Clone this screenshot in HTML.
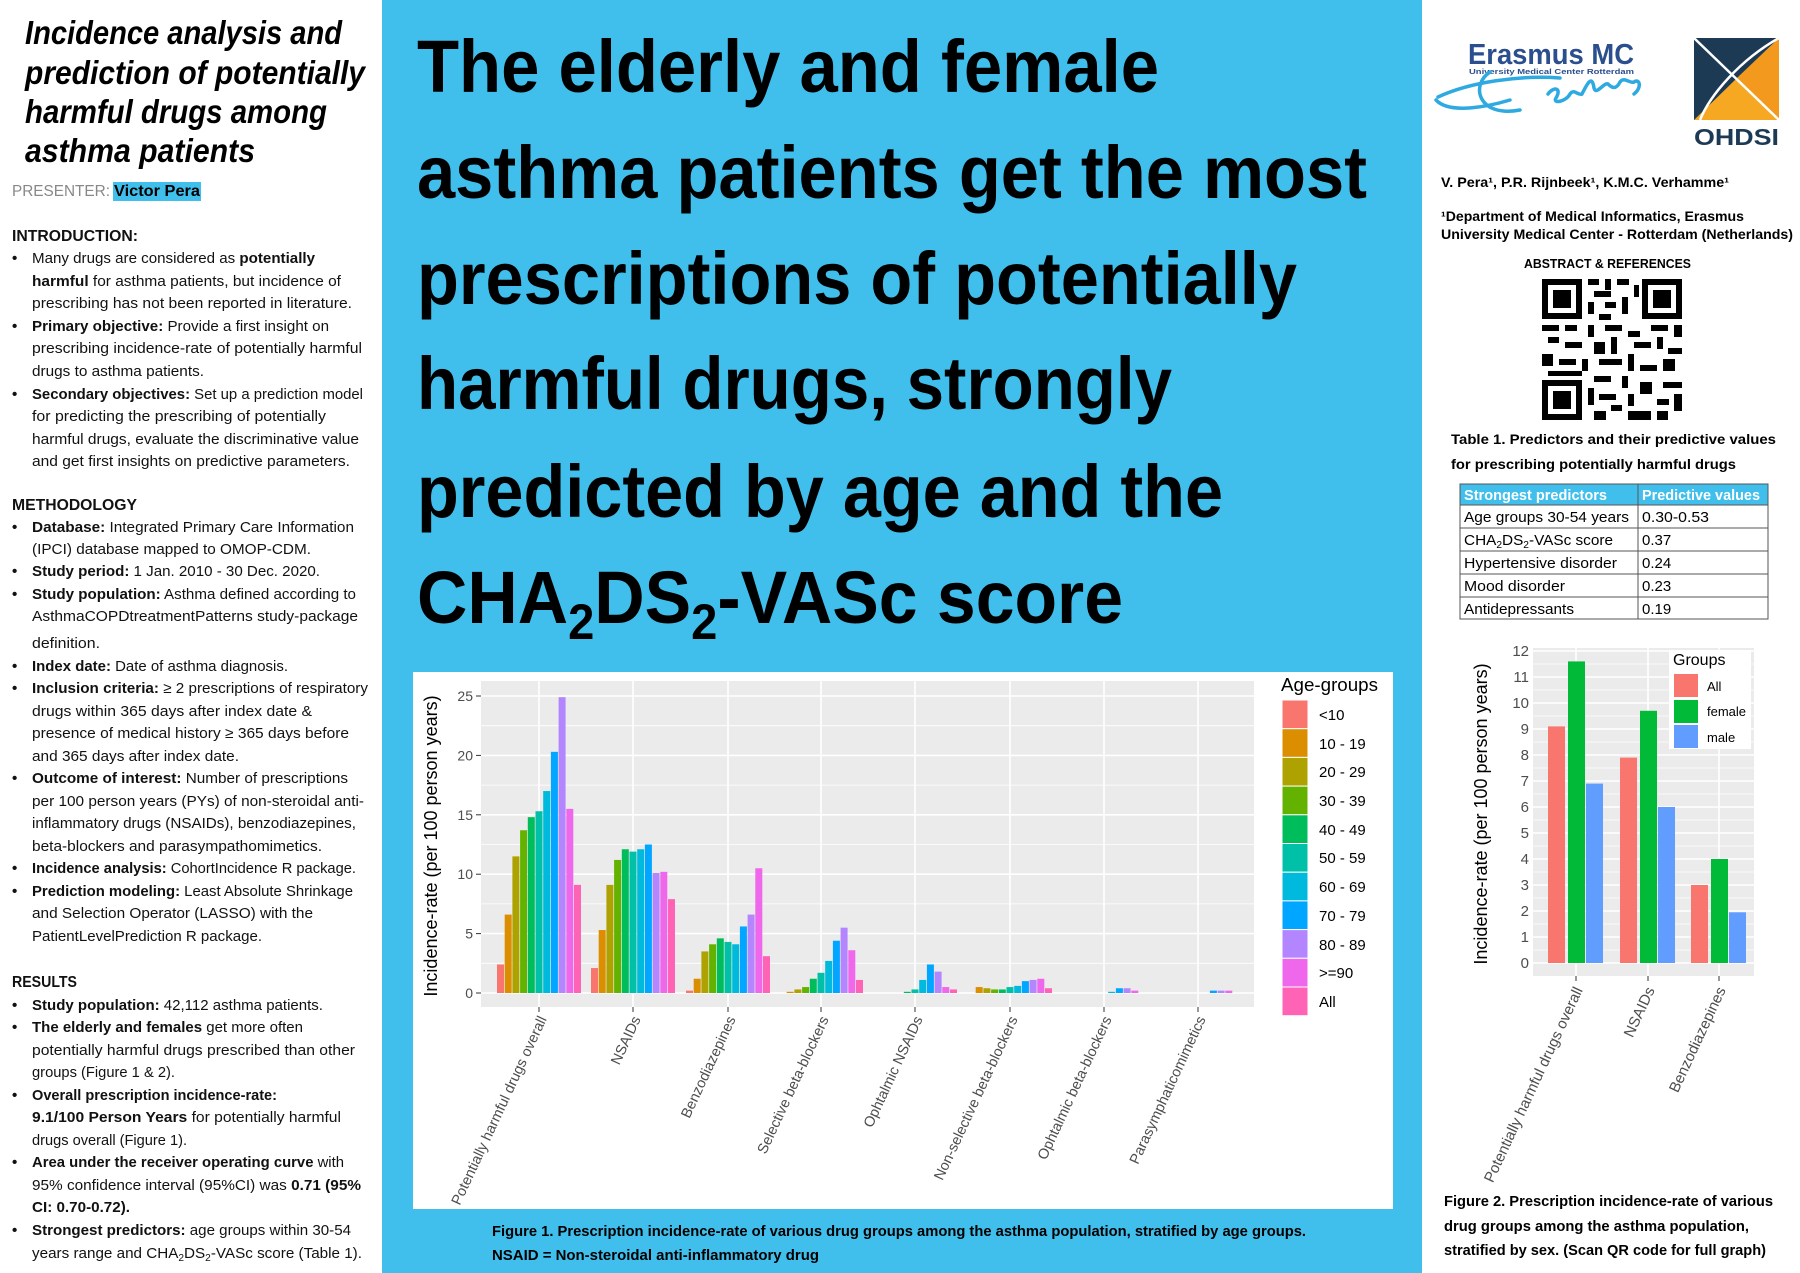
<!DOCTYPE html>
<html><head><meta charset="utf-8"><style>
html,body{margin:0;padding:0;background:#fff;}
svg{display:block;}
text{font-family:"Liberation Sans",sans-serif;}
</style></head><body>
<svg width="1800" height="1273" viewBox="0 0 1800 1273" xmlns="http://www.w3.org/2000/svg">
<rect x="0" y="0" width="1800" height="1273" fill="#fff"/>
<rect x="382" y="0" width="1040" height="1273" fill="#41BFEC"/>

<!-- LEFT COLUMN -->
<g font-weight="bold" font-style="italic" font-size="33" fill="#000">
<text x="25" y="44" textLength="317" lengthAdjust="spacingAndGlyphs">Incidence analysis and</text>
<text x="25" y="84" textLength="340" lengthAdjust="spacingAndGlyphs">prediction of potentially</text>
<text x="25" y="123" textLength="302" lengthAdjust="spacingAndGlyphs">harmful drugs among</text>
<text x="25" y="162" textLength="230" lengthAdjust="spacingAndGlyphs">asthma patients</text>
</g>
<text x="12" y="196" font-size="16" fill="#888" textLength="98" lengthAdjust="spacingAndGlyphs">PRESENTER:</text>
<rect x="113" y="182" width="88" height="19" fill="#41BFEC"/>
<text x="114" y="196" font-size="16" font-weight="bold" fill="#000" textLength="86" lengthAdjust="spacingAndGlyphs">Victor Pera</text>

<g font-size="15" fill="#111">
<text x="12" y="241" font-weight="bold" font-size="16" textLength="126" lengthAdjust="spacingAndGlyphs">INTRODUCTION:</text>
<g font-weight="bold"><text x="12" y="263">•</text><text x="12" y="331">•</text><text x="12" y="399">•</text></g>
<text x="32" y="263" textLength="283" lengthAdjust="spacingAndGlyphs">Many drugs are considered as <tspan font-weight="bold">potentially</tspan></text>
<text x="32" y="286" textLength="309" lengthAdjust="spacingAndGlyphs"><tspan font-weight="bold">harmful</tspan> for asthma patients, but incidence of</text>
<text x="32" y="308" textLength="320" lengthAdjust="spacingAndGlyphs">prescribing has not been reported in literature.</text>
<text x="32" y="331" textLength="297" lengthAdjust="spacingAndGlyphs"><tspan font-weight="bold">Primary objective:</tspan> Provide a first insight on</text>
<text x="32" y="353" textLength="330" lengthAdjust="spacingAndGlyphs">prescribing incidence-rate of potentially harmful</text>
<text x="32" y="376" textLength="172" lengthAdjust="spacingAndGlyphs">drugs to asthma patients.</text>
<text x="32" y="399" textLength="331" lengthAdjust="spacingAndGlyphs"><tspan font-weight="bold">Secondary objectives:</tspan> Set up a prediction model</text>
<text x="32" y="421" textLength="294" lengthAdjust="spacingAndGlyphs">for predicting the prescribing of potentially</text>
<text x="32" y="444" textLength="327" lengthAdjust="spacingAndGlyphs">harmful drugs, evaluate the discriminative value</text>
<text x="32" y="466" textLength="318" lengthAdjust="spacingAndGlyphs">and get first insights on predictive parameters.</text>

<text x="12" y="510" font-weight="bold" font-size="16" textLength="125" lengthAdjust="spacingAndGlyphs">METHODOLOGY</text>
<g font-weight="bold"><text x="12" y="532">•</text><text x="12" y="576">•</text><text x="12" y="599">•</text><text x="12" y="671">•</text><text x="12" y="693">•</text><text x="12" y="783">•</text><text x="12" y="873">•</text><text x="12" y="896">•</text></g>
<text x="32" y="532" textLength="322" lengthAdjust="spacingAndGlyphs"><tspan font-weight="bold">Database:</tspan> Integrated Primary Care Information</text>
<text x="32" y="554" textLength="279" lengthAdjust="spacingAndGlyphs">(IPCI) database mapped to OMOP-CDM.</text>
<text x="32" y="576" textLength="288" lengthAdjust="spacingAndGlyphs"><tspan font-weight="bold">Study period:</tspan> 1 Jan. 2010 - 30 Dec. 2020.</text>
<text x="32" y="599" textLength="324" lengthAdjust="spacingAndGlyphs"><tspan font-weight="bold">Study population:</tspan> Asthma defined according to</text>
<text x="32" y="621" textLength="326" lengthAdjust="spacingAndGlyphs">AsthmaCOPDtreatmentPatterns study-package</text>
<text x="32" y="648" textLength="68" lengthAdjust="spacingAndGlyphs">definition.</text>
<text x="32" y="671" textLength="256" lengthAdjust="spacingAndGlyphs"><tspan font-weight="bold">Index date:</tspan> Date of asthma diagnosis.</text>
<text x="32" y="693" textLength="336" lengthAdjust="spacingAndGlyphs"><tspan font-weight="bold">Inclusion criteria:</tspan> ≥ 2 prescriptions of respiratory</text>
<text x="32" y="716" textLength="280" lengthAdjust="spacingAndGlyphs">drugs within 365 days after index date &amp;</text>
<text x="32" y="738" textLength="317" lengthAdjust="spacingAndGlyphs">presence of medical history ≥ 365 days before</text>
<text x="32" y="761" textLength="207" lengthAdjust="spacingAndGlyphs">and 365 days after index date.</text>
<text x="32" y="783" textLength="316" lengthAdjust="spacingAndGlyphs"><tspan font-weight="bold">Outcome of interest:</tspan> Number of prescriptions</text>
<text x="32" y="806" textLength="332" lengthAdjust="spacingAndGlyphs">per 100 person years (PYs) of non-steroidal anti-</text>
<text x="32" y="828" textLength="324" lengthAdjust="spacingAndGlyphs">inflammatory drugs (NSAIDs), benzodiazepines,</text>
<text x="32" y="851" textLength="290" lengthAdjust="spacingAndGlyphs">beta-blockers and parasympathomimetics.</text>
<text x="32" y="873" textLength="324" lengthAdjust="spacingAndGlyphs"><tspan font-weight="bold">Incidence analysis:</tspan> CohortIncidence R package.</text>
<text x="32" y="896" textLength="321" lengthAdjust="spacingAndGlyphs"><tspan font-weight="bold">Prediction modeling:</tspan> Least Absolute Shrinkage</text>
<text x="32" y="918" textLength="281" lengthAdjust="spacingAndGlyphs">and Selection Operator (LASSO) with the</text>
<text x="32" y="941" textLength="230" lengthAdjust="spacingAndGlyphs">PatientLevelPrediction R package.</text>

<text x="12" y="987" font-weight="bold" font-size="16" textLength="65" lengthAdjust="spacingAndGlyphs">RESULTS</text>
<g font-weight="bold"><text x="12" y="1010">•</text><text x="12" y="1032">•</text><text x="12" y="1100">•</text><text x="12" y="1167">•</text><text x="12" y="1235">•</text></g>
<text x="32" y="1010" textLength="291" lengthAdjust="spacingAndGlyphs"><tspan font-weight="bold">Study population:</tspan> 42,112 asthma patients.</text>
<text x="32" y="1032" textLength="271" lengthAdjust="spacingAndGlyphs"><tspan font-weight="bold">The elderly and females</tspan> get more often</text>
<text x="32" y="1055" textLength="323" lengthAdjust="spacingAndGlyphs">potentially harmful drugs prescribed than other</text>
<text x="32" y="1077" textLength="143" lengthAdjust="spacingAndGlyphs">groups (Figure 1 &amp; 2).</text>
<text x="32" y="1100" textLength="245" lengthAdjust="spacingAndGlyphs" font-weight="bold">Overall prescription incidence-rate:</text>
<text x="32" y="1122" textLength="309" lengthAdjust="spacingAndGlyphs"><tspan font-weight="bold">9.1/100 Person Years</tspan> for potentially harmful</text>
<text x="32" y="1145" textLength="155" lengthAdjust="spacingAndGlyphs">drugs overall (Figure 1).</text>
<text x="32" y="1167" textLength="312" lengthAdjust="spacingAndGlyphs"><tspan font-weight="bold">Area under the receiver operating curve</tspan> with</text>
<text x="32" y="1190" textLength="329" lengthAdjust="spacingAndGlyphs">95% confidence interval (95%CI) was <tspan font-weight="bold">0.71 (95%</tspan></text>
<text x="32" y="1212" textLength="98" lengthAdjust="spacingAndGlyphs" font-weight="bold">CI: 0.70-0.72).</text>
<text x="32" y="1235" textLength="319" lengthAdjust="spacingAndGlyphs"><tspan font-weight="bold">Strongest predictors:</tspan> age groups within 30-54</text>
<text x="32" y="1258" textLength="330" lengthAdjust="spacingAndGlyphs">years range and CHA<tspan font-size="10" dy="3">2</tspan><tspan dy="-3">DS</tspan><tspan font-size="10" dy="3">2</tspan><tspan dy="-3">-VASc score (Table 1).</tspan></text>
</g>

<!-- MAIN TITLE -->
<g font-weight="bold" font-size="74" fill="#000">
<text x="417" y="92" textLength="742" lengthAdjust="spacingAndGlyphs">The elderly and female</text>
<text x="417" y="198" textLength="950" lengthAdjust="spacingAndGlyphs">asthma patients get the most</text>
<text x="417" y="304" textLength="880" lengthAdjust="spacingAndGlyphs">prescriptions of potentially</text>
<text x="417" y="409" textLength="755" lengthAdjust="spacingAndGlyphs">harmful drugs, strongly</text>
<text x="417" y="517" textLength="806" lengthAdjust="spacingAndGlyphs">predicted by age and the</text>
<text x="417" y="623" textLength="706" lengthAdjust="spacingAndGlyphs">CHA<tspan font-size="50" dy="16">2</tspan><tspan dy="-16">DS</tspan><tspan font-size="50" dy="16">2</tspan><tspan dy="-16">-VASc score</tspan></text>
</g>

<!-- FIGURE 1 -->
<rect x="413" y="672" width="980" height="537" fill="#fff"/>
<rect x="481" y="681" width="773" height="326" fill="#EBEBEB"/>
<g stroke="#fff" stroke-width="0.8">
<line x1="481" x2="1254" y1="963.3" y2="963.3"/><line x1="481" x2="1254" y1="903.9" y2="903.9"/><line x1="481" x2="1254" y1="844.5" y2="844.5"/><line x1="481" x2="1254" y1="785.1" y2="785.1"/><line x1="481" x2="1254" y1="725.7" y2="725.7"/>
</g>
<g stroke="#fff" stroke-width="1.6">
<line x1="481" x2="1254" y1="993" y2="993"/><line x1="481" x2="1254" y1="933.6" y2="933.6"/><line x1="481" x2="1254" y1="874.2" y2="874.2"/><line x1="481" x2="1254" y1="814.8" y2="814.8"/><line x1="481" x2="1254" y1="755.4" y2="755.4"/><line x1="481" x2="1254" y1="696" y2="696"/>
<line y1="681" y2="1007" x1="539" x2="539"/><line y1="681" y2="1007" x1="633" x2="633"/><line y1="681" y2="1007" x1="728" x2="728"/><line y1="681" y2="1007" x1="821" x2="821"/><line y1="681" y2="1007" x1="915" x2="915"/><line y1="681" y2="1007" x1="1010" x2="1010"/><line y1="681" y2="1007" x1="1104" x2="1104"/><line y1="681" y2="1007" x1="1198" x2="1198"/>
</g>
<g stroke="#333" stroke-width="1">
<line x1="476" x2="481" y1="993" y2="993"/><line x1="476" x2="481" y1="933.6" y2="933.6"/><line x1="476" x2="481" y1="874.2" y2="874.2"/><line x1="476" x2="481" y1="814.8" y2="814.8"/><line x1="476" x2="481" y1="755.4" y2="755.4"/><line x1="476" x2="481" y1="696" y2="696"/>
<line y1="1007" y2="1012" x1="539" x2="539"/><line y1="1007" y2="1012" x1="633" x2="633"/><line y1="1007" y2="1012" x1="728" x2="728"/><line y1="1007" y2="1012" x1="821" x2="821"/><line y1="1007" y2="1012" x1="915" x2="915"/><line y1="1007" y2="1012" x1="1010" x2="1010"/><line y1="1007" y2="1012" x1="1104" x2="1104"/><line y1="1007" y2="1012" x1="1198" x2="1198"/>
</g>
<g font-size="14" fill="#4D4D4D" text-anchor="end">
<text x="473" y="998">0</text><text x="473" y="938.6">5</text><text x="473" y="879.2">10</text><text x="473" y="819.8">15</text><text x="473" y="760.4">20</text><text x="473" y="701">25</text>
</g>
<text transform="translate(437,846) rotate(-90)" text-anchor="middle" font-size="18" fill="#000">Incidence-rate (per 100 person years)</text>
<g font-size="14.5" fill="#4D4D4D" text-anchor="end">
<text transform="translate(547,1019) rotate(-65)">Potentially harmful drugs overall</text>
<text transform="translate(641,1019) rotate(-65)">NSAIDs</text>
<text transform="translate(736,1019) rotate(-65)">Benzodiazepines</text>
<text transform="translate(829,1019) rotate(-65)">Selective beta-blockers</text>
<text transform="translate(923,1019) rotate(-65)">Ophtalmic NSAIDs</text>
<text transform="translate(1018,1019) rotate(-65)">Non-selective beta-blockers</text>
<text transform="translate(1112,1019) rotate(-65)">Ophtalmic beta-blockers</text>
<text transform="translate(1206,1019) rotate(-65)">Parasymphaticomimetics</text>
</g>
<!-- bars: each group translate(c-42.35, 993) scale(1,-11.88) -->
<g>
<g transform="translate(496.65,993) scale(1,-11.88)">
<rect x="0.35" y="0" width="7" height="2.4" fill="#F8766D"/><rect x="8.05" y="0" width="7" height="6.6" fill="#DB8E00"/><rect x="15.75" y="0" width="7" height="11.5" fill="#AEA200"/><rect x="23.45" y="0" width="7" height="13.7" fill="#64B200"/><rect x="31.15" y="0" width="7" height="14.8" fill="#00BD5C"/><rect x="38.85" y="0" width="7" height="15.3" fill="#00C1A7"/><rect x="46.55" y="0" width="7" height="17.0" fill="#00BADE"/><rect x="54.25" y="0" width="7" height="20.3" fill="#00A6FF"/><rect x="61.95" y="0" width="7" height="24.9" fill="#B385FF"/><rect x="69.65" y="0" width="7" height="15.5" fill="#EF67EB"/><rect x="77.35" y="0" width="7" height="9.1" fill="#FF63B6"/>
</g>
<g transform="translate(590.65,993) scale(1,-11.88)">
<rect x="0.35" y="0" width="7" height="2.1" fill="#F8766D"/><rect x="8.05" y="0" width="7" height="5.3" fill="#DB8E00"/><rect x="15.75" y="0" width="7" height="9.1" fill="#AEA200"/><rect x="23.45" y="0" width="7" height="11.2" fill="#64B200"/><rect x="31.15" y="0" width="7" height="12.1" fill="#00BD5C"/><rect x="38.85" y="0" width="7" height="11.9" fill="#00C1A7"/><rect x="46.55" y="0" width="7" height="12.1" fill="#00BADE"/><rect x="54.25" y="0" width="7" height="12.5" fill="#00A6FF"/><rect x="61.95" y="0" width="7" height="10.1" fill="#B385FF"/><rect x="69.65" y="0" width="7" height="10.2" fill="#EF67EB"/><rect x="77.35" y="0" width="7" height="7.9" fill="#FF63B6"/>
</g>
<g transform="translate(685.65,993) scale(1,-11.88)">
<rect x="0.35" y="0" width="7" height="0.2" fill="#F8766D"/><rect x="8.05" y="0" width="7" height="1.2" fill="#DB8E00"/><rect x="15.75" y="0" width="7" height="3.5" fill="#AEA200"/><rect x="23.45" y="0" width="7" height="4.1" fill="#64B200"/><rect x="31.15" y="0" width="7" height="4.6" fill="#00BD5C"/><rect x="38.85" y="0" width="7" height="4.3" fill="#00C1A7"/><rect x="46.55" y="0" width="7" height="4.1" fill="#00BADE"/><rect x="54.25" y="0" width="7" height="5.6" fill="#00A6FF"/><rect x="61.95" y="0" width="7" height="6.6" fill="#B385FF"/><rect x="69.65" y="0" width="7" height="10.5" fill="#EF67EB"/><rect x="77.35" y="0" width="7" height="3.1" fill="#FF63B6"/>
</g>
<g transform="translate(778.65,993) scale(1,-11.88)">
<rect x="8.05" y="0" width="7" height="0.1" fill="#DB8E00"/><rect x="15.75" y="0" width="7" height="0.3" fill="#AEA200"/><rect x="23.45" y="0" width="7" height="0.5" fill="#64B200"/><rect x="31.15" y="0" width="7" height="1.2" fill="#00BD5C"/><rect x="38.85" y="0" width="7" height="1.7" fill="#00C1A7"/><rect x="46.55" y="0" width="7" height="2.7" fill="#00BADE"/><rect x="54.25" y="0" width="7" height="4.4" fill="#00A6FF"/><rect x="61.95" y="0" width="7" height="5.5" fill="#B385FF"/><rect x="69.65" y="0" width="7" height="3.6" fill="#EF67EB"/><rect x="77.35" y="0" width="7" height="1.1" fill="#FF63B6"/>
</g>
<g transform="translate(872.65,993) scale(1,-11.88)">
<rect x="31.15" y="0" width="7" height="0.1" fill="#00BD5C"/><rect x="38.85" y="0" width="7" height="0.3" fill="#00C1A7"/><rect x="46.55" y="0" width="7" height="1.1" fill="#00BADE"/><rect x="54.25" y="0" width="7" height="2.4" fill="#00A6FF"/><rect x="61.95" y="0" width="7" height="1.8" fill="#B385FF"/><rect x="69.65" y="0" width="7" height="0.5" fill="#EF67EB"/><rect x="77.35" y="0" width="7" height="0.3" fill="#FF63B6"/>
</g>
<g transform="translate(967.65,993) scale(1,-11.88)">
<rect x="8.05" y="0" width="7" height="0.5" fill="#DB8E00"/><rect x="15.75" y="0" width="7" height="0.4" fill="#AEA200"/><rect x="23.45" y="0" width="7" height="0.3" fill="#64B200"/><rect x="31.15" y="0" width="7" height="0.3" fill="#00BD5C"/><rect x="38.85" y="0" width="7" height="0.5" fill="#00C1A7"/><rect x="46.55" y="0" width="7" height="0.6" fill="#00BADE"/><rect x="54.25" y="0" width="7" height="1.0" fill="#00A6FF"/><rect x="61.95" y="0" width="7" height="1.1" fill="#B385FF"/><rect x="69.65" y="0" width="7" height="1.2" fill="#EF67EB"/><rect x="77.35" y="0" width="7" height="0.4" fill="#FF63B6"/>
</g>
<g transform="translate(1061.65,993) scale(1,-11.88)">
<rect x="46.55" y="0" width="7" height="0.1" fill="#00BADE"/><rect x="54.25" y="0" width="7" height="0.4" fill="#00A6FF"/><rect x="61.95" y="0" width="7" height="0.4" fill="#B385FF"/><rect x="69.65" y="0" width="7" height="0.2" fill="#EF67EB"/>
</g>
<g transform="translate(1155.65,993) scale(1,-11.88)">
<rect x="54.25" y="0" width="7" height="0.2" fill="#00A6FF"/><rect x="61.95" y="0" width="7" height="0.2" fill="#B385FF"/><rect x="69.65" y="0" width="7" height="0.2" fill="#EF67EB"/>
</g>
</g>
<!-- legend 1 -->
<text x="1281" y="691" font-size="18" fill="#000" textLength="97" lengthAdjust="spacingAndGlyphs">Age-groups</text>
<g stroke="#fff" stroke-width="1">
<rect x="1282" y="700" width="26" height="28.7" fill="#F8766D"/><rect x="1282" y="728.7" width="26" height="28.7" fill="#DB8E00"/><rect x="1282" y="757.4" width="26" height="28.7" fill="#AEA200"/><rect x="1282" y="786.1" width="26" height="28.7" fill="#64B200"/><rect x="1282" y="814.8" width="26" height="28.7" fill="#00BD5C"/><rect x="1282" y="843.5" width="26" height="28.7" fill="#00C1A7"/><rect x="1282" y="872.2" width="26" height="28.7" fill="#00BADE"/><rect x="1282" y="900.9" width="26" height="28.7" fill="#00A6FF"/><rect x="1282" y="929.6" width="26" height="28.7" fill="#B385FF"/><rect x="1282" y="958.3" width="26" height="28.7" fill="#EF67EB"/><rect x="1282" y="987" width="26" height="28.7" fill="#FF63B6"/>
</g>
<g font-size="15" fill="#000">
<text x="1319" y="720">&lt;10</text><text x="1319" y="749">10 - 19</text><text x="1319" y="777">20 - 29</text><text x="1319" y="806">30 - 39</text><text x="1319" y="835">40 - 49</text><text x="1319" y="863">50 - 59</text><text x="1319" y="892">60 - 69</text><text x="1319" y="921">70 - 79</text><text x="1319" y="950">80 - 89</text><text x="1319" y="978">&gt;=90</text><text x="1319" y="1007">All</text>
</g>
<g font-size="15" font-weight="bold" fill="#000">
<text x="492" y="1236" textLength="814" lengthAdjust="spacingAndGlyphs">Figure 1. Prescription incidence-rate of various drug groups among the asthma population, stratified by age groups.</text>
<text x="492" y="1260" textLength="327" lengthAdjust="spacingAndGlyphs">NSAID = Non-steroidal anti-inflammatory drug</text>
</g>

<!-- RIGHT COLUMN -->
<!-- Erasmus logo -->
<text x="1468" y="64" font-size="29" font-weight="bold" fill="#2A4E8E" textLength="166" lengthAdjust="spacingAndGlyphs">Erasmus MC</text>
<text x="1469" y="74" font-size="7" font-weight="bold" fill="#2A4E8E" textLength="165" lengthAdjust="spacingAndGlyphs">University Medical Center Rotterdam</text>
<path d="M1438,97 C1470,82 1520,75 1560,78 M1490,72 C1470,85 1478,118 1520,110 M1436,100 C1450,115 1490,106 1510,100 M1548,94 c6,-8 14,-6 8,4 c-4,6 10,4 14,-4 c4,-6 8,2 12,0 c5,-10 10,-20 12,-6 c2,8 10,-6 14,-4 c4,4 8,6 12,-2 c4,-6 10,2 14,0 c6,-4 8,6 0,12" fill="none" stroke="#2FAAE1" stroke-width="3.5" stroke-linecap="round"/>
<!-- OHDSI logo -->
<rect x="1694" y="38" width="85" height="82" fill="#F7A823"/>
<polygon points="1694,38 1779,38 1736,79" fill="#1D3A55"/>
<polygon points="1694,38 1694,120 1736,79" fill="#1D3A55"/>
<polygon points="1736,79 1779,38 1779,120" fill="#F39A1E"/>
<path d="M1694,38 L1779,120 M1779,38 C1740,60 1710,95 1700,120" stroke="#fff" stroke-width="2.5" fill="none"/>
<text x="1694" y="145" font-size="23" font-weight="bold" fill="#1D3A55" textLength="85" lengthAdjust="spacingAndGlyphs">OHDSI</text>

<g font-size="14" font-weight="bold" fill="#000">
<text x="1441" y="187" textLength="288" lengthAdjust="spacingAndGlyphs">V. Pera¹, P.R. Rijnbeek¹, K.M.C. Verhamme¹</text>
<text x="1441" y="221" textLength="303" lengthAdjust="spacingAndGlyphs">¹Department of Medical Informatics, Erasmus</text>
<text x="1441" y="239" textLength="352" lengthAdjust="spacingAndGlyphs">University Medical Center - Rotterdam (Netherlands)</text>
<text x="1524" y="268" font-size="13" textLength="167" lengthAdjust="spacingAndGlyphs">ABSTRACT &amp; REFERENCES</text>
</g>
<!-- QR -->
<g fill="#000">
<rect x="1542" y="279" width="40" height="40"/><rect x="1548" y="285" width="28" height="28" fill="#fff"/><rect x="1553" y="290" width="18" height="18"/>
<rect x="1642" y="279" width="40" height="40"/><rect x="1648" y="285" width="28" height="28" fill="#fff"/><rect x="1653" y="290" width="18" height="18"/>
<rect x="1542" y="380" width="40" height="40"/><rect x="1548" y="386" width="28" height="28" fill="#fff"/><rect x="1553" y="391" width="18" height="18"/>
<rect x="1588" y="279" width="11" height="6"/><rect x="1605" y="279" width="6" height="11"/><rect x="1617" y="279" width="12" height="6"/><rect x="1634" y="285" width="5" height="12"/><rect x="1594" y="291" width="17" height="6"/><rect x="1588" y="302" width="6" height="12"/><rect x="1605" y="302" width="11" height="6"/><rect x="1622" y="297" width="6" height="17"/><rect x="1599" y="314" width="12" height="6"/>
<rect x="1542" y="325" width="17" height="6"/><rect x="1565" y="325" width="12" height="6"/><rect x="1588" y="325" width="6" height="12"/><rect x="1605" y="325" width="17" height="6"/><rect x="1628" y="331" width="12" height="6"/><rect x="1651" y="325" width="17" height="6"/><rect x="1674" y="325" width="8" height="12"/>
<rect x="1548" y="337" width="11" height="6"/><rect x="1565" y="342" width="17" height="6"/><rect x="1594" y="342" width="11" height="12"/><rect x="1611" y="337" width="6" height="17"/><rect x="1634" y="342" width="17" height="6"/><rect x="1657" y="337" width="6" height="12"/><rect x="1668" y="348" width="14" height="6"/>
<rect x="1542" y="354" width="11" height="12"/><rect x="1559" y="359" width="17" height="6"/><rect x="1582" y="359" width="6" height="12"/><rect x="1599" y="359" width="23" height="6"/><rect x="1628" y="354" width="6" height="17"/><rect x="1640" y="365" width="17" height="6"/><rect x="1663" y="359" width="12" height="12"/>
<rect x="1548" y="371" width="34" height="5"/><rect x="1594" y="376" width="17" height="6"/><rect x="1622" y="376" width="6" height="12"/><rect x="1640" y="382" width="12" height="12"/><rect x="1663" y="382" width="19" height="6"/>
<rect x="1588" y="388" width="6" height="17"/><rect x="1599" y="394" width="17" height="6"/><rect x="1628" y="394" width="6" height="12"/><rect x="1657" y="399" width="12" height="6"/><rect x="1674" y="394" width="8" height="17"/>
<rect x="1594" y="411" width="12" height="9"/><rect x="1611" y="405" width="11" height="6"/><rect x="1628" y="411" width="23" height="9"/><rect x="1657" y="411" width="11" height="9"/>
</g>
<g font-size="14" font-weight="bold" fill="#000">
<text x="1451" y="444" textLength="325" lengthAdjust="spacingAndGlyphs">Table 1.  Predictors and their predictive values</text>
<text x="1451" y="469" textLength="285" lengthAdjust="spacingAndGlyphs">for prescribing potentially harmful drugs</text>
</g>
<rect x="1460" y="484" width="308" height="21" fill="#41BFEC"/>
<g stroke="#555" stroke-width="1" fill="none">
<rect x="1460" y="484" width="308" height="135"/>
<line x1="1638" x2="1638" y1="484" y2="619"/>
<line x1="1460" x2="1768" y1="505" y2="505"/><line x1="1460" x2="1768" y1="528" y2="528"/><line x1="1460" x2="1768" y1="551" y2="551"/><line x1="1460" x2="1768" y1="574" y2="574"/><line x1="1460" x2="1768" y1="597" y2="597"/>
</g>
<g font-size="15" fill="#fff" font-weight="bold">
<text x="1464" y="500" textLength="143" lengthAdjust="spacingAndGlyphs">Strongest predictors</text>
<text x="1642" y="500" textLength="118" lengthAdjust="spacingAndGlyphs">Predictive values</text>
</g>
<g font-size="15" fill="#000">
<text x="1464" y="522" textLength="165" lengthAdjust="spacingAndGlyphs">Age groups 30-54 years</text>
<text x="1464" y="545" textLength="149" lengthAdjust="spacingAndGlyphs">CHA<tspan font-size="10" dy="3">2</tspan><tspan dy="-3">DS</tspan><tspan font-size="10" dy="3">2</tspan><tspan dy="-3">-VASc score</tspan></text>
<text x="1464" y="568" textLength="153" lengthAdjust="spacingAndGlyphs">Hypertensive disorder</text>
<text x="1464" y="591" textLength="101" lengthAdjust="spacingAndGlyphs">Mood disorder</text>
<text x="1464" y="614" textLength="110" lengthAdjust="spacingAndGlyphs">Antidepressants</text>
<text x="1642" y="522" textLength="67" lengthAdjust="spacingAndGlyphs">0.30-0.53</text>
<text x="1642" y="545">0.37</text><text x="1642" y="568">0.24</text><text x="1642" y="591">0.23</text><text x="1642" y="614">0.19</text>
</g>

<!-- FIGURE 2 -->
<rect x="1533" y="648" width="221" height="328" fill="#EBEBEB"/>
<g stroke="#fff" stroke-width="0.8">
<line x1="1533" x2="1754" y1="950" y2="950"/><line x1="1533" x2="1754" y1="924" y2="924"/><line x1="1533" x2="1754" y1="898" y2="898"/><line x1="1533" x2="1754" y1="872" y2="872"/><line x1="1533" x2="1754" y1="846" y2="846"/><line x1="1533" x2="1754" y1="820" y2="820"/><line x1="1533" x2="1754" y1="794" y2="794"/><line x1="1533" x2="1754" y1="768" y2="768"/><line x1="1533" x2="1754" y1="742" y2="742"/><line x1="1533" x2="1754" y1="716" y2="716"/><line x1="1533" x2="1754" y1="690" y2="690"/><line x1="1533" x2="1754" y1="664" y2="664"/>
</g>
<g stroke="#fff" stroke-width="1.6">
<line x1="1533" x2="1754" y1="963" y2="963"/><line x1="1533" x2="1754" y1="937" y2="937"/><line x1="1533" x2="1754" y1="911" y2="911"/><line x1="1533" x2="1754" y1="885" y2="885"/><line x1="1533" x2="1754" y1="859" y2="859"/><line x1="1533" x2="1754" y1="833" y2="833"/><line x1="1533" x2="1754" y1="807" y2="807"/><line x1="1533" x2="1754" y1="781" y2="781"/><line x1="1533" x2="1754" y1="755" y2="755"/><line x1="1533" x2="1754" y1="729" y2="729"/><line x1="1533" x2="1754" y1="703" y2="703"/><line x1="1533" x2="1754" y1="677" y2="677"/><line x1="1533" x2="1754" y1="651" y2="651"/>
<line x1="1576" x2="1576" y1="648" y2="976"/><line x1="1648" x2="1648" y1="648" y2="976"/><line x1="1719" x2="1719" y1="648" y2="976"/>
</g>
<g stroke="#333" stroke-width="1">
<line x1="1576" x2="1576" y1="976" y2="981"/><line x1="1648" x2="1648" y1="976" y2="981"/><line x1="1719" x2="1719" y1="976" y2="981"/>
</g>
<g font-size="15" fill="#4D4D4D" text-anchor="end">
<text x="1529" y="968">0</text><text x="1529" y="942">1</text><text x="1529" y="916">2</text><text x="1529" y="890">3</text><text x="1529" y="864">4</text><text x="1529" y="838">5</text><text x="1529" y="812">6</text><text x="1529" y="786">7</text><text x="1529" y="760">8</text><text x="1529" y="734">9</text><text x="1529" y="708">10</text><text x="1529" y="682">11</text><text x="1529" y="656">12</text>
</g>
<g transform="translate(1576,963) scale(1,-26)">
<rect x="-28" y="0" width="17" height="9.1" fill="#F8766D"/><rect x="-8" y="0" width="17" height="11.6" fill="#00BA38"/><rect x="10" y="0" width="17" height="6.9" fill="#619CFF"/>
</g>
<g transform="translate(1648,963) scale(1,-26)">
<rect x="-28" y="0" width="17" height="7.9" fill="#F8766D"/><rect x="-8" y="0" width="17" height="9.7" fill="#00BA38"/><rect x="10" y="0" width="17" height="6.0" fill="#619CFF"/>
</g>
<g transform="translate(1719,963) scale(1,-26)">
<rect x="-28" y="0" width="17" height="3.0" fill="#F8766D"/><rect x="-8" y="0" width="17" height="4.0" fill="#00BA38"/><rect x="10" y="0" width="17" height="1.95" fill="#619CFF"/>
</g>
<rect x="1669" y="650" width="82" height="99" fill="#fff"/>
<text x="1673" y="665" font-size="16" fill="#000">Groups</text>
<rect x="1674" y="674" width="24" height="23" fill="#F8766D"/>
<rect x="1674" y="700" width="24" height="23" fill="#00BA38"/>
<rect x="1674" y="725" width="24" height="23" fill="#619CFF"/>
<g font-size="13" fill="#000"><text x="1707" y="691">All</text><text x="1707" y="716">female</text><text x="1707" y="742">male</text></g>
<text transform="translate(1487,814) rotate(-90)" text-anchor="middle" font-size="18" fill="#000">Incidence-rate (per 100 person years)</text>
<g font-size="15" fill="#4D4D4D" text-anchor="end">
<text transform="translate(1583,990) rotate(-65)">Potentially harmful drugs overall</text>
<text transform="translate(1655,990) rotate(-65)">NSAIDs</text>
<text transform="translate(1726,990) rotate(-65)">Benzodiazepines</text>
</g>
<g font-size="15" font-weight="bold" fill="#000">
<text x="1444" y="1206" textLength="329" lengthAdjust="spacingAndGlyphs">Figure 2. Prescription incidence-rate of various</text>
<text x="1444" y="1231" textLength="305" lengthAdjust="spacingAndGlyphs">drug groups among the asthma population,</text>
<text x="1444" y="1255" textLength="322" lengthAdjust="spacingAndGlyphs">stratified by sex. (Scan QR code for full graph)</text>
</g>
</svg>
</body></html>
